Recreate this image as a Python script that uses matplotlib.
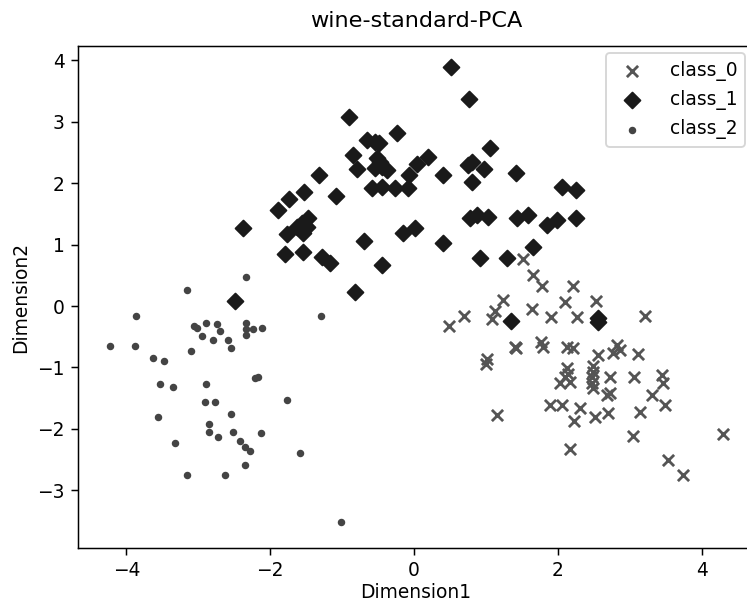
import matplotlib
matplotlib.use("Agg")
import matplotlib.pyplot as plt

# class_0 (x markers)
c0_x = [1.512, 1.659, 1.781, 2.215, 1.242, 1.127, 1.091, 0.695, 0.491, 1.646,
        2.100, 2.531, 1.910, 2.266, 3.213, 1.404, 1.418, 1.766, 1.790, 2.123,
        2.207, 1.011, 1.002, 2.820, 2.865, 2.772, 2.563, 3.120, 2.494, 2.494,
        2.123, 2.146, 2.100, 2.472, 2.472, 2.726, 3.060, 3.445, 3.467, 2.031,
        2.170, 2.494, 3.306, 2.680, 2.726, 3.491, 1.891, 2.054, 2.309, 1.150,
        3.143, 2.702, 2.517, 2.225, 3.050, 4.302, 2.170, 3.536, 3.746]
c0_y = [0.774, 0.513, 0.331, 0.334, 0.090, -0.081, -0.212, -0.155, -0.318, -0.041,
        0.065, 0.086, -0.174, -0.176, -0.163, -0.663, -0.684, -0.581, -0.673, -0.663,
        -0.681, -0.868, -0.945, -0.635, -0.717, -0.770, -0.798, -0.782, -0.977, -1.070,
        -1.015, -1.107, -1.156, -1.156, -1.259, -1.161, -1.156, -1.124, -1.259, -1.249,
        -1.238, -1.340, -1.450, -1.450, -1.422, -1.612, -1.612, -1.612, -1.666, -1.775,
        -1.731, -1.748, -1.803, -1.868, -2.117, -2.090, -2.329, -2.508, -2.757]

# class_1 (diamonds)
c1_x = [-0.900, -0.241, -0.657, -0.543, -0.483, -0.844, -0.519, -0.473, -0.449, -0.380,
        -0.543, -0.789, -0.065, 0.042, -0.588, -0.449, -0.264, -0.080, -1.317, -1.525,
        -1.739, -1.089, -1.888, -1.470, -1.562, -1.493, -1.631, -1.770, -1.539, -2.382,
        -0.691, -0.149, 0.014, -1.794, -1.539, -1.283, -1.168, -0.449, -2.489, -0.820,
        0.511, 0.770, 0.199, 0.399, 0.802, 0.755, 1.057, 0.974, 0.811, 1.414,
        2.054, 2.253, 0.778, 0.872, 1.033, 1.428, 1.590, 1.846, 1.985, 2.249,
        0.399, 0.918, 1.289, 1.659, 1.345, 2.563, 2.563]
c1_y = [3.083, 2.822, 2.704, 2.676, 2.660, 2.459, 2.406, 2.350, 2.269, 2.215,
        2.243, 2.231, 2.134, 2.313, 1.917, 1.943, 1.917, 1.917, 2.134, 1.862,
        1.738, 1.792, 1.564, 1.428, 1.347, 1.292, 1.292, 1.173, 1.184, 1.265,
        1.064, 1.184, 1.265, 0.847, 0.884, 0.803, 0.705, 0.668, 0.086, 0.223,
        3.888, 3.371, 2.432, 2.134, 2.350, 2.296, 2.578, 2.226, 2.015, 2.171,
        1.943, 1.889, 1.428, 1.482, 1.454, 1.428, 1.482, 1.319, 1.401, 1.438,
        1.021, 0.777, 0.777, 0.956, -0.244, -0.200, -0.256]

# class_2 (dots)
c2_x = [-2.341, -3.157, -3.863, -4.224, -3.877, -3.064, -3.018, -2.893, -2.740, -2.698,
        -2.948, -2.800, -2.587, -2.549, -3.101, -3.630, -3.477, -3.537, -3.347, -2.889,
        -2.911, -2.764, -3.557, -2.549, -2.855, -2.855, -2.722, -2.513, -2.420, -2.346,
        -3.328, -2.355, -3.157, -2.628, -1.297, -2.341, -2.341, -2.341, -2.243, -2.114,
        -2.212, -2.165, -1.770, -2.132, -2.281, -1.586, -1.015]
c2_y = [0.467, 0.261, -0.158, -0.651, -0.651, -0.326, -0.358, -0.272, -0.288, -0.402,
        -0.493, -0.559, -0.559, -0.689, -0.733, -0.847, -0.891, -1.270, -1.314, -1.270,
        -1.564, -1.564, -1.803, -1.759, -1.917, -2.047, -2.134, -2.047, -2.199, -2.292,
        -2.226, -2.594, -2.757, -2.757, -0.158, -0.282, -0.375, -0.467, -0.379, -0.358,
        -1.178, -1.151, -1.531, -2.063, -2.362, -2.399, -3.513]

labels = ["class_0", "class_1", "class_2"]

DPI = 134.5
W, H = 747, 602
fig = plt.figure(figsize=(W / DPI, H / DPI), dpi=DPI)
ax_left, ax_right, ax_top, ax_bottom = 78, 754, 46, 548
ax = fig.add_axes([ax_left / W, (H - ax_bottom) / H,
                   (ax_right - ax_left) / W, (ax_bottom - ax_top) / H])

ax.scatter(c0_x, c0_y, marker="x", color="#555555", label=labels[0])
ax.scatter(c1_x, c1_y, marker="D", color="#1a1a1a", label=labels[1])
ax.scatter(c2_x, c2_y, marker=".", color="#444444", label=labels[2])

ax.set_xlim(-4.673, 4.729)
ax.set_ylim(-3.941, 4.235)
ax.set_xticks([-4, -2, 0, 2, 4])
ax.set_yticks([-3, -2, -1, 0, 1, 2, 3, 4])
ax.set_title("wine-standard-PCA", pad=10)
ax.set_xlabel("Dimension1", labelpad=1.5)
ax.set_ylabel("Dimension2")
ax.legend(loc="upper right", handletextpad=1.0,
          bbox_to_anchor=(1.0, 1.0 + 2 / 502))

fig.savefig("out.png", dpi=DPI)
